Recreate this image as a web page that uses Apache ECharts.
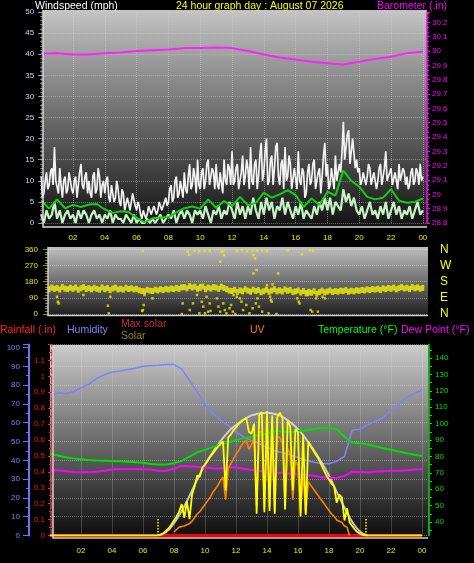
<!DOCTYPE html>
<html><head><meta charset="utf-8">
<script src="https://cdn.jsdelivr.net/npm/echarts@6/dist/echarts.min.js"></script>
<style>html,body{margin:0;padding:0;background:#000;}#c{width:474px;height:563px;}</style>
</head><body><div id="c"></div>
<script>
// ---------------- data ----------------
const hourTicks = [2,4,6,8,10,12,14,16,18,20,22,24];
const hourLabels = ['02','04','06','08','10','12','14','16','18','20','22','00'];

// wind gust, 5-minute samples from 00:00 (mph)
const windGust = [
 11,6,7,10,12,8,9,12,13,9,18,10,  10,7,13,9,6,10,11,7,8,12,12,8,
 7,10,11,6,9,12,14,9,8,11,12,7,  10,7,6,11,12,7,8,13,11,6,9,10,
 7,10,11,6,5,9,9,5,6,10,8,5,  4,8,7,3,3,6,6,3,5,7,7,4,
 3,5,4,2,1,3,3,1,2,4,4,2,  2,4,4,2,3,5,4,3,3,5,6,4,
 5,8,9,5,6,10,11,6,7,10,10,6,  12,8,7,11,14,8,9,13,11,7,15,9,
 8,12,13,8,10,14,15,9,9,13,12,8,  14,9,8,12,12,7,15,10,9,14,13,9,
 17,9,10,13,14,8,8,12,16,9,11,15,  13,8,18,10,9,14,15,8,11,16,19,10,
 12,17,20,9,10,15,16,9,13,18,19,11,  9,14,15,8,18,10,11,16,14,8,8,13,
 13,8,17,10,9,13,12,6,7,12,14,9,  10,14,15,8,8,12,13,7,11,16,19,11,
 14,8,9,13,13,8,16,10,10,14,12,17,  24,15,18,21,22,14,17,20,20,13,15,12,
 13,9,10,12,12,9,11,14,13,9,9,12,  12,8,10,13,14,9,11,13,17,10,10,12,
 13,9,9,12,12,8,14,10,10,13,12,9,  11,8,9,12,13,9,10,13,12,9,14,10, 11];
// wind speed, 10-minute samples from 00:00 (mph)
const windSpeed = [
 2,0,3,1,2,5, 1,3,0,2,3,1, 2,0,3,1,3,2, 0,2,3,1,2,0,
 2,1,3,0,2,1, 1,0,2,1,0,2, 0,1,0,0,1,0, 1,0,1,2,0,1,
 2,1,3,0,2,3, 1,3,2,0,3,2, 3,1,4,2,0,3, 2,4,1,3,2,5,
 3,1,5,2,4,1, 4,2,6,3,1,5, 2,6,3,5,1,4, 3,6,2,5,3,1,
 4,2,5,1,3,2, 1,4,2,5,3,6, 3,6,2,5,4,3, 8,5,7,4,6,3,
 2,4,1,3,5,2, 3,1,4,2,5,1, 3,5,2,4,1,3, 2,4,1,3,5,2, 3];
// 30-minute average wind (mph)
const windAvg = [5.4,3.4,5.6,3.5,4.3,3.8,4.4,4.5,3.2,2.4,2.8,2.6,1.2,0.2,1.1,1.3,1.4,2.5,3.5,3.9,
 3.4,5.6,3.6,5.2,4.0,6.2,4.2,4.8,7.2,6.0,6.8,7.8,6.6,3.8,5.8,4.3,7.4,6.5,12.4,10.0,
 8.6,6.2,5.6,6.0,8.0,5.3,4.8,5.0,5.8];
// hourly barometer (in)
const baro = [29.98,29.985,29.975,29.975,29.985,29.99,30.0,30.005,30.01,30.02,30.02,30.025,30.02,
 30.0,29.975,29.955,29.94,29.925,29.915,29.905,29.925,29.945,29.96,29.985,29.995];

// wind direction, 10-minute samples (degrees)
const dirBand = [
 150,142,155,138,147,140, 145,136,150,141,138,146, 140,148,135,143,150,139, 144,137,146,140,135,148,
 138,145,133,142,147,136, 141,135,146,139,143,137, 140,132,128,126,135,130, 128,136,131,138,133,140,
 136,142,138,145,140,148, 150,143,155,147,152,140, 145,153,138,148,142,150, 147,140,152,145,138,130,
 128,135,122,132,126,138, 130,124,136,128,133,121, 127,135,123,130,138,126, 132,125,137,129,134,122,
 126,131,119,128,115,124, 118,127,113,122,130,120, 125,131,122,128,124,130, 127,133,124,130,126,132,
 129,134,131,137,133,139, 136,141,134,143,138,145, 140,147,137,144,150,142, 146,139,150,143,148,141, 145];
// scattered direction readings [hour, degrees]
const dirScatter = [[1.0,96],[1.05,68],[1.1,59],[2.66,106],[4.2,46],[4.25,4],[4.35,96],[6.4,352],[6.45,50],
 [6.4,22],[6.35,17],[6.5,106],[7.0,87],[8.9,59],[8.85,0],[9.2,347],[9.3,330],[9.65,350],[9.95,350],[10.3,352],
 [10.6,352],[9.35,22],[9.55,59],[9.8,106],[10.0,161],[10.1,68],[10.2,41],[10.4,96],[10.5,13],[10.6,59],[9.95,4],
 [10.3,4],[10.65,17],[11.26,291],[11.35,347],[11.45,351],[11.5,328],[11.05,87],[11.15,41],[11.26,13],[11.45,59],
 [11.55,22],[11.65,4],[11.85,32],[11.95,50],[12.05,13],[12.2,0],[12.0,124],[12.1,106],[12.3,96],[12.3,350],
 [12.65,355],[12.95,350],[13.3,352],[13.6,353],[13.9,355],[14.2,350],[13.35,328],[13.45,310],[13.35,226],
 [13.55,245],[12.5,87],[12.6,69],[12.7,22],[12.9,50],[13.1,4],[13.3,32],[13.5,59],[13.6,87],[13.7,41],[13.9,13],
 [14.2,161],[14.3,4],[14.4,96],[14.45,78],[14.5,69],[14.55,165],[14.8,0],[14.9,226],[15.5,355],[16.4,332],
 [16.9,356],[17.1,351],[16.1,87],[16.2,69],[16.25,59],[16.7,124],[16.8,106],[16.95,22],[17.05,13],[17.3,87],
 [17.7,96],[17.85,87],[17.4,13]];
const dirNames = {0:'N',90:'E',180:'S',270:'W',360:'N'};

// 30-minute readings from 00:00
const humidity = [73.5,76,75.5,76.5,78.5,80.5,83.5,85.5,86.8,87.5,88.3,89,90,90.3,90.6,91,91,88.5,82.5,76.5,
 69.5,65,61.5,58.5,55,52.5,50.5,48.8,47,45,44,42.8,41.5,40,39,38.4,38.2,39.5,42,56,56.5,59,60.8,62.8,66.5,70,73.2,75.6,77.4];
const temperature = [81.5,80.5,79.5,78.8,78.3,77.8,77.5,77.4,77.2,77,76.8,76.5,76.1,75.4,75,75.1,75.8,77.3,79.8,82.5,
 84,85.5,87.5,88.5,90,91,92,93,94,95.5,95.2,94.8,95.5,96,96.5,97.5,97.2,96.5,92,88.5,88,87.2,86.2,85,84,83,82,81,80.2];
const dewPoint = [71.7,71.5,71,70.5,70.3,70.3,70.6,71.3,72,72.3,72.3,72.3,72.2,72,71.2,71.3,72.5,74.2,74,73.6,
 73.2,72.8,72.7,73.2,73.4,72.5,71.8,71.2,70.8,70.2,70,69.5,69,68.7,68.2,67.5,66.8,67,68,70.7,70.5,70.2,70.8,71,71.2,71.3,71.6,71.9,72.1];
// hourly rainfall (in)
const rainfall = [0,0,0,0,0,0,0,0,0,0,0,0,0,0,0,0,0,0,0,0,0,0,0,0,0];
// max solar, 30-minute from 07:00 (W/m2)
const maxSolarStart = 7.0;
const maxSolar = [0,25,90,180,290,410,520,610,690,760,810,850,880,895,900,890,870,830,780,710,630,540,440,320,205,100,30,0];
// solar, 10-minute from 00:00 (W/m2)
const solar = [
 0,0,0,0,0,0, 0,0,0,0,0,0, 0,0,0,0,0,0, 0,0,0,0,0,0, 0,0,0,0,0,0, 0,0,0,0,0,0, 0,0,0,0,0,0,
 2,8,18,35,55,80, 110,140,175,230,130,250, 120,300,360,440,430,500, 520,545,575,600,625,650,
 670,690,330,720,740,770, 790,815,835,850,860,760, 745,820,160,880,905,170, 910,180,880,160,870,900,
 860,190,840,800,330,780, 760,140,740,150,690,650, 620,590,560,520,480,440, 410,380,360,240,300,280,
 110,200,95,70,45,25, 12,4,0,0,0,0, 0,0,0,0,0,0, 0,0,0,0,0,0, 0,0,0,0,0,0, 0];
// UV index, 10-minute from 08:00
const uvStart = 8.0;
const uv = [0.3,0.5,0.7,0.75,0.8,0.9, 1.0,1.2,1.5,1.8,2.0,2.3, 2.6,2.9,3.2,3.6,3.9,4.2, 4.6,4.9,3.0,5.6,6.0,6.4,
 6.8,7.1,7.5,7.8,8.0,7.2, 7.6,8.2,2.5,8.6,8.7,2.2, 8.5,2.4,8.4,2.0,8.3,8.2, 7.7,2.5,7.3,6.8,3.0,6.3,
 5.8,1.9,5.2,1.8,4.5,4.2, 3.9,3.6,3.3,3.0,2.7,2.4, 2.1,1.8,1.6,1.3,1.2,1.1, 0.8,0.7,0];
const sunrise = 6.95, sunset = 20.4;
const tempLabels = [40,50,60,70,80,90,100,110,120,130,140];

// ---------------- helpers ----------------
const toPairs = (arr, t0, step) => arr.map((v, i) => [t0 + i * step, v]);
const TEN = 1 / 6, FIVE = 1 / 12;
const FONT = '"Liberation Sans", Arial, sans-serif';
const tempTicks = [];
for (let v = 35; v <= 145; v += 5) tempTicks.push(v);
const hourFmt = v => { const i = hourTicks.findIndex(h => Math.abs(h - v) < 1e-6); return i >= 0 ? hourLabels[i] : ''; };
const grad = (a, b) => new echarts.graphic.LinearGradient(0, 0, 0, 1, [{offset: 0, color: a}, {offset: 1, color: b}]);
const gridLine = {show: true, lineStyle: {color: 'rgba(215,215,215,0.45)', type: 'dotted', width: 1}};
const lab = (color, margin) => ({color, fontSize: 8, fontFamily: FONT, margin});

const chart = echarts.init(document.getElementById('c'), null, {renderer: 'canvas'});
const txt = (text, x, y, fill) => ({type: 'text', z: 100, style: {text, x, y, fill, font: '10.5px ' + FONT, verticalAlign: 'middle'}});

chart.setOption({
  backgroundColor: '#000',
  animation: false,
  graphic: [
    {type: 'rect', z: -10, shape: {x: 43, y: 10, width: 384, height: 217}, style: {fill: grad('#c4c4c4', '#121212')}},
    {type: 'rect', z: -10, shape: {x: 48, y: 247, width: 380, height: 69}, style: {fill: grad('#c0c0c0', '#1c1c1c')}},
    {type: 'rect', z: -10, shape: {x: 50, y: 345, width: 378, height: 193}, style: {fill: grad('#cacaca', '#0c0c0c')}},
    {type: 'polyline', z: 50, shape: {points: [[43, 10], [43, 227], [427, 227]]}, style: {stroke: '#d8d8d8', lineWidth: 1.5, fill: null}},
    {type: 'polyline', z: 50, shape: {points: [[48, 247], [48, 315.5], [428, 315.5]]}, style: {stroke: '#d0d0d0', lineWidth: 1.5, fill: null}},
    {type: 'polyline', z: 50, shape: {points: [[53, 345], [53, 538], [428, 538]]}, style: {stroke: '#d0d0d0', lineWidth: 1.5, fill: null}},
    txt('Windspeed (mph)', 35, 6, '#ffffff'),
    txt('24 hour graph day : August 07 2026', 176, 6, '#ffff00'),
    txt('Barometer (.in)', 377, 6, '#ff00ff'),
    txt('Rainfall (.in)', 0, 330, '#ff2020'),
    txt('Humidity', 67, 330, '#8080ff'),
    txt('Max solar', 121, 324, '#c8284e'),
    txt('Solar', 121, 336, '#8c8c14'),
    txt('UV', 250, 330, '#ff8000'),
    txt('Temperature (°F)', 318, 330, '#00ff00'),
    txt('Dew Point (°F)', 401, 330, '#ff00ff')
  ],
  grid: [
    {left: 41.2, right: 47, top: 12, bottom: 340, outerBoundsMode: 'none'},
    {left: 48, right: 46, top: 249.3, bottom: 249, outerBoundsMode: 'none'},
    {left: 50, right: 46, top: 344.5, bottom: 27.5, outerBoundsMode: 'none'}
  ],
  xAxis: [
    {type: 'value', gridIndex: 0, min: 0, max: 24.26, interval: 2,
     axisLine: {show: false}, axisTick: {show: false}, splitLine: gridLine,
     axisLabel: Object.assign(lab('#e8e800', 11), {formatter: hourFmt, showMinLabel: false, showMaxLabel: false})},
    {type: 'value', gridIndex: 1, min: 0.43, max: 24.33,
     axisLine: {show: false}, axisTick: {show: false}, splitLine: {show: false}, axisLabel: {show: false}},
    {type: 'value', gridIndex: 2, min: 0, max: 24.39, interval: 2,
     axisLine: {show: false}, axisTick: {show: false}, splitLine: gridLine,
     axisLabel: Object.assign(lab('#e8e800', 11), {formatter: hourFmt, showMinLabel: false, showMaxLabel: false})}
  ],
  yAxis: [
    {type: 'value', gridIndex: 0, position: 'left', min: 0, max: 50, interval: 5, offset: -2,
     axisLine: {show: false}, axisTick: {show: true, length: 5, lineStyle: {color: '#a0a0a0'}},
     minorTick: {show: true, splitNumber: 5, length: 3, lineStyle: {color: '#909090'}},
     splitLine: gridLine, axisLabel: lab('#c8dcff', 9)},
    {type: 'value', gridIndex: 0, position: 'right', min: 28.8, max: 30.272, interval: 0.1,
     axisLine: {show: true, lineStyle: {color: '#ff00ff', width: 1.5}},
     axisTick: {show: true, length: 3, lineStyle: {color: '#ff00ff'}},
     minorTick: {show: true, splitNumber: 3, length: 2, lineStyle: {color: '#ff00ff'}},
     splitLine: {show: false}, axisLabel: Object.assign(lab('#ff00ff', 5), {showMaxLabel: false})},
    {type: 'value', gridIndex: 1, position: 'left', min: 0, max: 360, interval: 90,
     axisLine: {show: false}, axisTick: {show: true, length: 5, lineStyle: {color: '#909000'}},
     minorTick: {show: true, splitNumber: 6, length: 3, lineStyle: {color: '#909000'}},
     splitLine: {show: true, lineStyle: {color: 'rgba(225,225,225,0.45)', type: 'dotted'}},
     axisLabel: lab('#e8e800', 10)},
    {type: 'value', gridIndex: 1, position: 'right', min: 0, max: 360, interval: 90,
     axisLine: {show: false}, axisTick: {show: false}, splitLine: {show: false},
     axisLabel: {color: '#ffff00', fontSize: 12, fontFamily: FONT, margin: 12, formatter: v => dirNames[v] || ''}},
    {type: 'value', gridIndex: 2, position: 'left', min: 0, max: 1.2, interval: 0.1, offset: -2,
     axisLine: {show: true, lineStyle: {color: '#ff2020', type: 'dashed', width: 1.5}},
     axisTick: {show: true, length: 4, lineStyle: {color: '#ff2020'}},
     minorTick: {show: true, splitNumber: 2, length: 3, lineStyle: {color: '#ff2020'}},
     splitLine: {show: false}, axisLabel: Object.assign(lab('#ff1010', 7), {showMaxLabel: false})},
    {type: 'value', gridIndex: 2, position: 'left', min: 0, max: 101.6, interval: 10, offset: 21,
     axisLine: {show: true, lineStyle: {color: '#7070ff', width: 2}},
     axisTick: {show: true, length: 6, lineStyle: {color: '#7070ff'}},
     minorTick: {show: true, splitNumber: 2, length: 3, lineStyle: {color: '#7070ff'}},
     splitLine: gridLine, axisLabel: Object.assign(lab('#8080ff', 9), {showMaxLabel: false})},
    {type: 'value', gridIndex: 2, position: 'right', min: 31.8, max: 148.2, offset: 1,
     axisLine: {show: true, lineStyle: {color: '#00e000', width: 1.5}},
     axisTick: {show: true, length: 3, customValues: tempTicks, lineStyle: {color: '#00e000'}},
     splitLine: {show: false}, axisLabel: Object.assign(lab('#00e000', 6), {customValues: tempLabels})},
    {type: 'value', gridIndex: 2, min: 0, max: 1400, show: false},
    {type: 'value', gridIndex: 2, min: 0, max: 16, show: false}
  ],
  series: [
    {type: 'line', xAxisIndex: 0, yAxisIndex: 0, showSymbol: false, data: toPairs(windGust, 0, FIVE),
     lineStyle: {color: '#f2f2f2', width: 1.7}},
    {type: 'line', xAxisIndex: 0, yAxisIndex: 0, showSymbol: false, data: toPairs(windSpeed, 0, TEN),
     lineStyle: {color: '#c4f2c4', width: 2.2}},
    {type: 'line', xAxisIndex: 0, yAxisIndex: 0, showSymbol: false, data: toPairs(windAvg, 0, 0.5),
     lineStyle: {color: '#10d010', width: 2}},
    {type: 'line', xAxisIndex: 0, yAxisIndex: 1, showSymbol: false, data: toPairs(baro, 0, 1),
     lineStyle: {color: '#ff20ff', width: 2}},
    {type: 'scatter', xAxisIndex: 1, yAxisIndex: 2, symbol: 'rect', symbolSize: [3, 6],
     data: toPairs(dirBand, 0, TEN), itemStyle: {color: '#f0f000'}},
    {type: 'scatter', xAxisIndex: 1, yAxisIndex: 2, symbol: 'rect', symbolSize: 2.5,
     data: dirScatter, itemStyle: {color: '#e8e800'}},
    {type: 'line', xAxisIndex: 2, yAxisIndex: 4, showSymbol: false, data: toPairs(rainfall, 0, 1),
     lineStyle: {color: '#ff0000', width: 3}},
    {type: 'line', xAxisIndex: 2, yAxisIndex: 5, showSymbol: false, data: toPairs(humidity, 0, 0.5),
     lineStyle: {color: '#8080ff', width: 1.6}},
    {type: 'line', xAxisIndex: 2, yAxisIndex: 7, showSymbol: false, smooth: true, data: toPairs(maxSolar, maxSolarStart, 0.5),
     lineStyle: {color: 'rgba(225,225,225,0.85)', width: 2}},
    {type: 'line', xAxisIndex: 2, yAxisIndex: 6, showSymbol: false, data: toPairs(temperature, 0, 0.5),
     lineStyle: {color: '#00e000', width: 2}},
    {type: 'line', xAxisIndex: 2, yAxisIndex: 6, showSymbol: false, data: toPairs(dewPoint, 0, 0.5),
     lineStyle: {color: '#ff00ff', width: 2}},
    {type: 'line', xAxisIndex: 2, yAxisIndex: 8, showSymbol: false, data: toPairs(uv, uvStart, TEN),
     lineStyle: {color: '#ff8000', width: 1.6}},
    {type: 'line', xAxisIndex: 2, yAxisIndex: 7, showSymbol: false, data: toPairs(solar, 0, TEN),
     lineStyle: {color: '#ffff00', width: 1.8},
     markLine: {silent: true, symbol: 'none', label: {show: false},
       lineStyle: {color: '#ffff00', type: 'dotted', width: 1.5},
       data: [[{coord: [sunrise, 0]}, {coord: [sunrise, 125]}], [{coord: [sunset, 0]}, {coord: [sunset, 125]}]]}}
  ]
});
</script></body></html>
